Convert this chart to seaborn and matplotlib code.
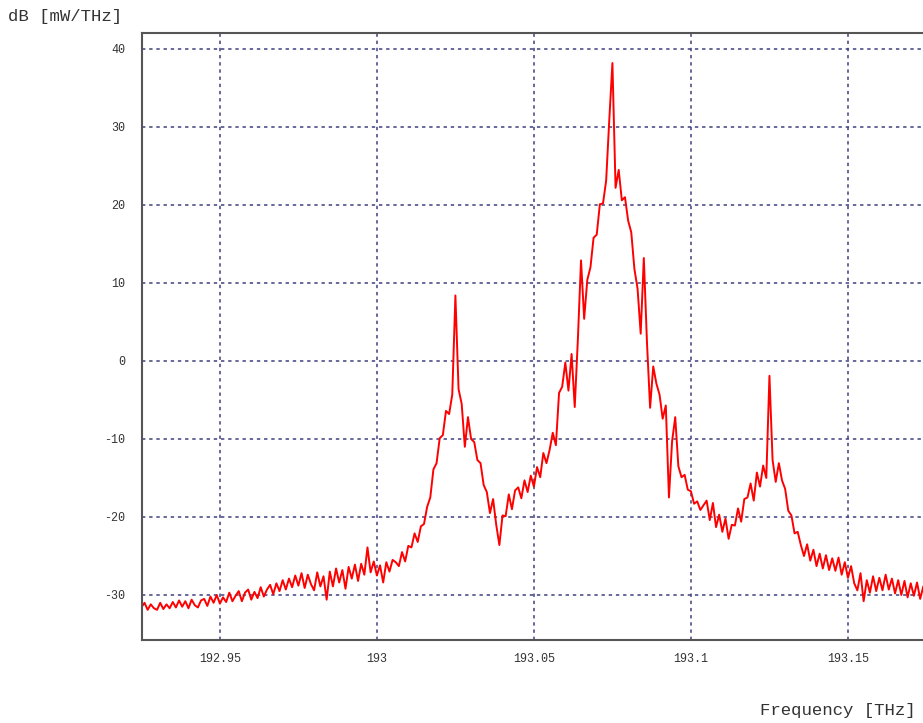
import numpy as np
import pandas as pd
import matplotlib
matplotlib.use("Agg")
import matplotlib.pyplot as plt
import seaborn as sns

# Spectrum samples (one value per 1 GHz)
freq_start = 192.925
freq_step = 0.001
power_db = [
    -31.6, -31.0, -31.9, -31.2, -31.7, -31.9, -31.0, -31.8, -31.2, -31.7,
    -30.9, -31.6, -30.7, -31.5, -30.8, -31.7, -30.6, -31.3, -31.6, -30.7,
    -30.5, -31.4, -30.2, -31.0, -30.0, -31.1, -30.3, -30.9, -29.7, -30.8,
    -30.1, -29.5, -30.8, -29.7, -29.3, -30.6, -29.6, -30.4, -29.0, -30.2,
    -29.3, -28.7, -29.9, -28.5, -29.5, -28.1, -29.3, -27.9, -29.0, -27.5,
    -28.8, -27.2, -29.1, -27.4, -28.6, -29.4, -27.1, -28.9, -27.6, -30.6,
    -27.0, -28.9, -26.6, -28.4, -26.8, -29.2, -26.4, -27.9, -26.1, -28.2,
    -26.0, -27.4, -23.9, -27.1, -25.7, -27.5, -26.2, -28.4, -25.8, -27.0,
    -25.5, -25.8, -26.3, -24.5, -25.7, -23.7, -23.9, -22.1, -23.2, -21.2,
    -20.9, -18.7, -17.5, -13.9, -13.1, -9.9, -9.5, -6.4, -6.8, -4.3,
    8.4, -3.6, -5.5, -11.0, -7.2, -10.0, -10.4, -12.7, -13.1, -15.9,
    -16.8, -19.5, -17.7, -21.0, -23.6, -19.8, -19.9, -17.1, -19.0, -16.6,
    -16.2, -17.6, -15.3, -16.8, -14.7, -16.1, -13.6, -14.9, -11.8, -13.1,
    -11.4, -9.2, -10.8, -4.1, -3.3, -0.2, -3.8, 0.9, -5.9, 2.8,
    12.9, 5.4, 10.4, 12.0, 15.8, 16.2, 20.1, 20.2, 23.1, 30.9,
    38.2, 22.2, 24.5, 20.6, 21.0, 18.0, 16.5, 11.8, 9.3, 3.5,
    13.2, 2.4, -6.0, -0.7, -2.9, -4.3, -7.4, -5.7, -17.5, -10.3,
    -7.2, -13.5, -14.9, -14.6, -16.5, -16.7, -18.3, -18.0, -19.1, -18.5,
    -17.9, -20.4, -18.2, -21.3, -19.7, -21.9, -20.2, -22.8, -21.0, -21.1,
    -18.9, -20.6, -17.7, -17.5, -15.7, -17.9, -14.3, -16.1, -13.4, -15.0,
    -1.9, -12.7, -15.5, -13.1, -15.3, -16.4, -19.2, -19.8, -22.1, -21.9,
    -23.6, -25.0, -23.5, -25.6, -24.2, -26.3, -24.7, -26.6, -24.9, -26.8,
    -25.3, -26.9, -25.2, -27.4, -25.8, -27.8, -26.3, -28.5, -29.4, -27.2,
    -30.8, -28.1, -29.7, -27.6, -29.5, -27.8, -29.4, -27.4, -29.3, -27.9,
    -29.8, -28.1, -30.0, -28.2, -30.3, -28.5, -30.1, -28.4, -30.5, -28.9,
]

x_ticks = [192.95, 193.0, 193.05, 193.1, 193.15]
x_tick_labels = ["192.95", "193", "193.05", "193.1", "193.15"]
y_ticks = [40, 30, 20, 10, 0, -10, -20, -30]

freq = freq_start + freq_step * np.arange(len(power_db))
df = pd.DataFrame({"freq": freq, "db": power_db})

sns.set_style("white")
plt.rcParams['font.family'] = ['Liberation Mono', 'DejaVu Sans Mono']
plt.rcParams['axes.unicode_minus'] = False

fig = plt.figure(figsize=(9.23, 7.23), dpi=100)
ax = fig.add_axes([142 / 923, 83 / 723, 1 - 142 / 923, 607 / 723])

sns.lineplot(data=df, x="freq", y="db", ax=ax, color="#ff0000",
             linewidth=1.4, estimator=None)

ax.set_xlim(192.9252, 193.1739)
ax.set_ylim(-35.77, 42.05)
ax.set_xticks(x_ticks)
ax.set_xticklabels(x_tick_labels)
ax.set_yticks(y_ticks)

ax.grid(True, color="#40407e", linestyle=(0, (2.2, 2.5)), linewidth=1.1)
ax.set_axisbelow(True)

for side in ["left", "bottom", "top"]:
    ax.spines[side].set_color("#555555")
    ax.spines[side].set_linewidth(1.5)
ax.spines["right"].set_visible(False)

ax.tick_params(axis="both", direction="out", length=4, width=1.2,
               color="#444444", labelsize=8.5, labelcolor="#333333")
ax.tick_params(axis="y", pad=8)
ax.tick_params(axis="x", pad=5)
ax.set_xlabel("")
ax.set_ylabel("")

fig.text(8 / 923, 1 - 16 / 723, "dB [mW/THz]", fontsize=12.5, color="#333333",
         ha="left", va="center")
fig.text(760 / 923, 1 - 711 / 723, "Frequency [THz]", fontsize=12.5,
         color="#333333", ha="left", va="center")

fig.savefig("out.png", dpi=100)
